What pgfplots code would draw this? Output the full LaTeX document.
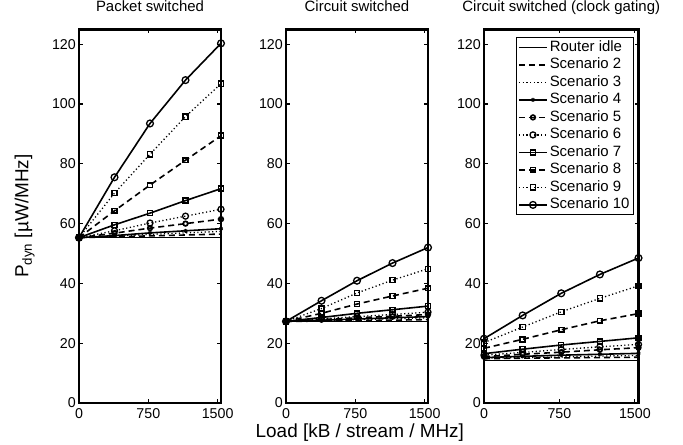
\documentclass[border=0pt]{standalone}
\usepackage{fontspec}
\setmainfont{Liberation Sans}
\usepackage{pgfplots}
\pgfplotsset{compat=1.18}
\usepackage{pgfplotstable}

% P_dyn per scenario, three router types
\pgfplotstableread{
x    idle  s2   s3   s4   s5   s6   s7   s8   s9    s10
0    55.3  55.3 55.3 55.3 55.3 55.3 55.3 55.3 55.3  55.3
384  55.3  55.6 55.8 56.0 56.8 57.6 59.6 64.3 70.2  75.5
768  55.3  55.9 56.4 56.9 58.5 60.2 63.5 72.9 83.2  93.5
1152 55.3  56.2 56.9 57.6 60.0 62.5 67.7 81.2 95.8  108.0
1536 55.3  56.5 57.4 58.3 61.5 64.8 71.7 89.4 106.8 120.3
}\packet
\pgfplotstableread{
x    idle  s2   s3   s4   s5   s6   s7   s8   s9   s10
0    27.3  27.3 27.3 27.3 27.3 27.3 27.3 27.3 27.3 27.3
384  27.3  27.4 27.6 27.7 27.9 28.1 28.6 30.0 31.6 34.2
768  27.3  27.6 27.9 28.1 28.5 28.9 30.0 33.1 36.8 40.9
1152 27.3  27.7 28.2 28.5 29.0 29.6 31.2 35.8 41.1 46.8
1536 27.3  27.9 28.5 28.9 29.6 30.4 32.4 38.4 44.9 52.0
}\circuit
\pgfplotstableread{
x    idle  s2   s3   s4   s5   s6   s7   s8   s9   s10
0    14.2  14.8 15.0 15.2 15.5 16.0 16.5 18.3 20.2 21.5
384  14.2  15.0 15.2 15.6 16.3 16.9 18.0 21.3 25.4 29.3
768  14.2  15.1 15.4 16.0 17.0 17.9 19.4 24.5 30.5 36.7
1152 14.2  15.2 15.7 16.3 17.8 18.8 20.6 27.5 35.0 43.0
1536 14.2  15.3 15.9 16.6 18.5 19.6 21.8 29.9 39.2 48.5
}\gating

\pgfplotsset{
  sol/.style={solid, line width=1.6bp},
  dsh/.style={dash pattern=on 6bp off 4bp, line width=1.6bp},
  dot/.style={dash pattern=on 1.2bp off 2.5bp, line width=1.3bp},
  sc1/.style={sol, no marks},
  sc2/.style={dsh, no marks},
  sc3/.style={dot, no marks},
  sc4/.style={sol, mark=asterisk, mark size=2bp, mark options={solid, line width=1.2bp}},
  sc5/.style={dsh, mark=o, mark size=2.3bp, mark options={solid, line width=1.7bp}},
  sc6/.style={dot, mark=o, mark size=3bp, mark options={solid, line width=1.3bp}},
  sc7/.style={sol, mark=square, mark size=2.5bp, mark options={solid, line width=1.4bp}},
  sc8/.style={dsh, mark=square, mark size=2.4bp, mark options={solid, line width=1.7bp}},
  sc9/.style={dot, mark=square, mark size=2.6bp, mark options={solid, line width=1.3bp}},
  sc10/.style={sol, mark=o, mark size=3.4bp, mark options={solid, line width=1.3bp}},
  panel/.style={
    scale only axis, height=373.7bp, anchor=south west,
    xmin=0, xmax=1536, ymin=0, ymax=125,
    xtick={0,750,1500}, ytick={0,20,...,120},
    tick align=inside, major tick length=4bp,
    every tick/.style={black, line width=1.2bp},
    axis line style={line width=2.6bp},
    clip=false,
    /pgf/number format/assume math mode=true,
    /pgf/number format/1000 sep={},
    tick label style={font=\fontsize{14.3}{16}\selectfont},
    yticklabel style={inner sep=0pt, xshift=-3bp},
    xticklabel style={inner sep=0pt, yshift=-5bp},
    title style={font=\fontsize{15}{17}\selectfont, at={(axis description cs:0.5,1)}, anchor=base, yshift=12bp, inner sep=0pt},
  },
}

\begin{document}
\begin{tikzpicture}
\useasboundingbox (0,0) rectangle (683bp,445bp);

\begin{axis}[panel, at={(79bp,42bp)}, width=142bp,
  title={Packet switched},
  ylabel={P\textsubscript{dyn} [µW/MHz]},
  ylabel style={font=\fontsize{19}{21}\selectfont, at={(axis description cs:-0.357,0.5)}, anchor=base, inner sep=0pt},
]
\addplot[sc1]  table[x=x, y=idle] {\packet};
\addplot[sc2]  table[x=x, y=s2]   {\packet};
\addplot[sc3]  table[x=x, y=s3]   {\packet};
\addplot[sc4]  table[x=x, y=s4]   {\packet};
\addplot[sc5]  table[x=x, y=s5]   {\packet};
\addplot[sc6]  table[x=x, y=s6]   {\packet};
\addplot[sc7]  table[x=x, y=s7]   {\packet};
\addplot[sc8]  table[x=x, y=s8]   {\packet};
\addplot[sc9]  table[x=x, y=s9]   {\packet};
\addplot[sc10] table[x=x, y=s10]  {\packet};
\end{axis}

\begin{axis}[panel, at={(286bp,42bp)}, width=142bp,
  title={Circuit switched},
  xlabel={Load [kB / stream / MHz]},
  xlabel style={font=\fontsize{19}{21}\selectfont, at={(axis description cs:0.52,0)}, anchor=base, yshift=-34bp, inner sep=0pt},
]
\addplot[sc1]  table[x=x, y=idle] {\circuit};
\addplot[sc2]  table[x=x, y=s2]   {\circuit};
\addplot[sc3]  table[x=x, y=s3]   {\circuit};
\addplot[sc4]  table[x=x, y=s4]   {\circuit};
\addplot[sc5]  table[x=x, y=s5]   {\circuit};
\addplot[sc6]  table[x=x, y=s6]   {\circuit};
\addplot[sc7]  table[x=x, y=s7]   {\circuit};
\addplot[sc8]  table[x=x, y=s8]   {\circuit};
\addplot[sc9]  table[x=x, y=s9]   {\circuit};
\addplot[sc10] table[x=x, y=s10]  {\circuit};
\end{axis}

\begin{axis}[panel, at={(484bp,42bp)}, width=154.5bp,
  title={Circuit switched (clock gating)},
  legend cell align=left,
  legend style={at={(axis description cs:0.971,0.979)}, anchor=north east,
    font=\fontsize{15}{17}\selectfont, draw=black, line width=1bp,
    inner xsep=2bp, inner ysep=1bp, row sep=0pt,
    nodes={inner xsep=2bp, inner ysep=1.5bp, text height=11bp, text depth=3.5bp}},
  legend image code/.code={\draw[mark repeat=2, mark phase=2] plot coordinates {(0bp,0bp) (14bp,0bp) (28bp,0bp)};},
]
\addplot[sc1]  table[x=x, y=idle] {\gating};
\addplot[sc2]  table[x=x, y=s2]   {\gating};
\addplot[sc3]  table[x=x, y=s3]   {\gating};
\addplot[sc4]  table[x=x, y=s4]   {\gating};
\addplot[sc5]  table[x=x, y=s5]   {\gating};
\addplot[sc6]  table[x=x, y=s6]   {\gating};
\addplot[sc7]  table[x=x, y=s7]   {\gating};
\addplot[sc8]  table[x=x, y=s8]   {\gating};
\addplot[sc9]  table[x=x, y=s9]   {\gating};
\addplot[sc10] table[x=x, y=s10]  {\gating};
\legend{Router idle, Scenario 2, Scenario 3, Scenario 4, Scenario 5, Scenario 6, Scenario 7, Scenario 8, Scenario 9, Scenario 10}
\end{axis}
\end{tikzpicture}
\end{document}
